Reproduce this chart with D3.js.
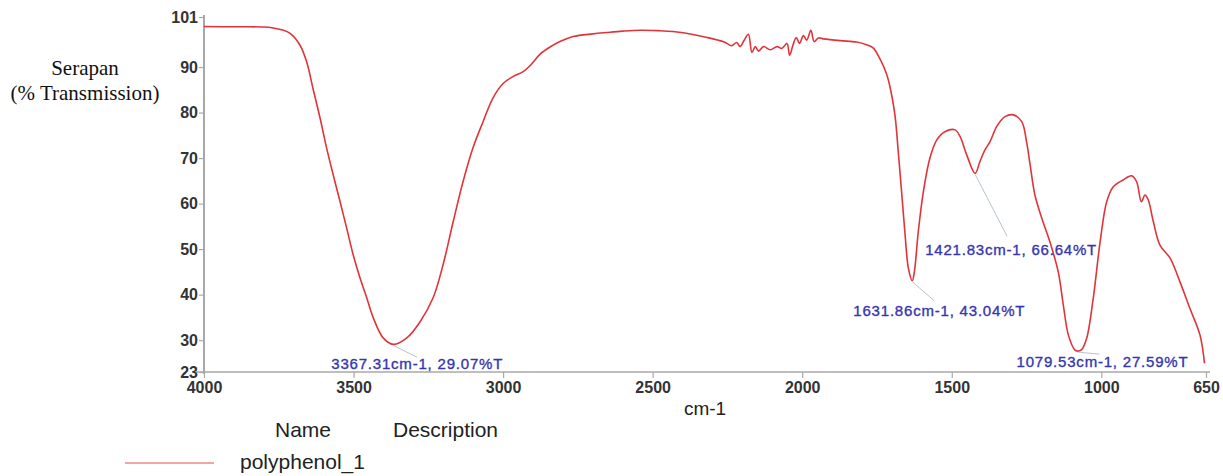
<!DOCTYPE html>
<html>
<head>
<meta charset="utf-8">
<script src="https://cdn.jsdelivr.net/npm/d3@7"></script>
<style>
  html, body { margin: 0; padding: 0; background: #fff; }
  svg { display: block; }
</style>
</head>
<body>
<svg id="chart" width="1223" height="476"></svg>
<script>
// ---------- DATA ----------
const wavenumber = [4000, 3900, 3800, 3769, 3740, 3712, 3679, 3657, 3636, 3612, 3590, 3568, 3545, 3523, 3501, 3478, 3456, 3434, 3401, 3367, 3322, 3278, 3234, 3201, 3167, 3134, 3101, 3067, 3034, 3000, 2967, 2933, 2910, 2877, 2843, 2810, 2766, 2700, 2653, 2600, 2542, 2480, 2432, 2370, 2318, 2265, 2252, 2236, 2219, 2208, 2194, 2180, 2168, 2157, 2146, 2129, 2107, 2084, 2068, 2051, 2042, 2031, 2020, 2009, 1996, 1985, 1971, 1960, 1946, 1929, 1873, 1818, 1785, 1763, 1740, 1718, 1706, 1690, 1679, 1667, 1656, 1645, 1632, 1625, 1612, 1595, 1573, 1550, 1523, 1489, 1472, 1450, 1422, 1406, 1389, 1372, 1350, 1322, 1294, 1266, 1250, 1238, 1222, 1199, 1172, 1144, 1127, 1110, 1088, 1080, 1066, 1049, 1027, 1004, 982, 960, 927, 899, 882, 866, 854, 843, 826, 804, 770, 737, 704, 670, 655];
const transmission = [98.9, 98.85, 98.8, 98.6, 98.2, 97.4, 94.8, 91.2, 85.4, 78.8, 72.2, 66.3, 60.4, 54.6, 48.7, 43.6, 39.3, 34.9, 30.5, 29.07, 30.5, 34.0, 39.3, 46.5, 56.0, 64.8, 72.2, 78.0, 83.2, 86.4, 87.9, 89.0, 90.3, 92.8, 94.4, 95.6, 96.7, 97.3, 97.6, 97.9, 98.1, 98.0, 97.8, 97.2, 96.5, 95.6, 95.2, 94.7, 95.4, 94.5, 95.9, 97.2, 93.2, 94.5, 93.5, 94.5, 93.8, 94.5, 94.1, 95.2, 92.6, 94.8, 96.5, 95.2, 96.9, 95.9, 98.1, 95.6, 96.4, 96.2, 95.8, 95.5, 94.9, 94.2, 91.8, 88.5, 85.5, 79.5, 71.5, 62.0, 53.1, 45.8, 43.04, 45.0, 53.8, 62.6, 70.0, 74.0, 75.8, 76.2, 74.7, 70.7, 66.64, 69.2, 71.8, 73.6, 76.9, 79.1, 79.5, 78.0, 73.6, 68.5, 61.9, 56.8, 51.6, 45.0, 37.7, 31.1, 27.8, 27.59, 27.9, 30.4, 39.2, 51.6, 60.4, 63.7, 65.2, 66.1, 64.8, 60.4, 61.9, 60.8, 56.0, 50.9, 48.0, 42.8, 37.0, 31.1, 24.9];

const xTicks = [4000, 3500, 3000, 2500, 2000, 1500, 1000, 650];
const yTicks = [101, 90, 80, 70, 60, 50, 40, 30, 23];

const peakWavenumber = [3367.31, 1631.86, 1421.83, 1079.53];
const peakTransmission = [29.07, 43.04, 66.64, 27.59];
const peakLabels = ["3367.31cm-1, 29.07%T", "1631.86cm-1, 43.04%T", "1421.83cm-1, 66.64%T", "1079.53cm-1, 27.59%T"];

const seriesName = "polyphenol_1";

// ---------- LAYOUT ----------
const svg = d3.select("#chart");
const x = d3.scaleLinear().domain([4000, 650]).range([204, 1206]);
const y = d3.scaleLinear().domain([23, 101]).range([372, 17]);

// label layout (leader end offset, text start offset, baseline offset) relative to peak
const labelLayout = [
  { lx: 24, ly: 13, tx: -62, ty: 25 },
  { lx: 22, ly: 20, tx: -59, ty: 35 },
  { lx: 32, ly: 63, tx: -50, ty: 82 },
  { lx: 22, ly: 3,  tx: -61, ty: 16 }
];

const axisColor = "#a8a8a8";
const tickText = "#333";

// axes lines
svg.append("line")
  .attr("x1", 196).attr("x2", 1210)
  .attr("y1", y(23)).attr("y2", y(23))
  .attr("stroke", axisColor).attr("stroke-width", 1.6);
svg.append("line")
  .attr("x1", x(4000)).attr("x2", x(4000))
  .attr("y1", y(101) - 2).attr("y2", y(23) + 2)
  .attr("stroke", axisColor).attr("stroke-width", 2);

// x axis
const xAxis = d3.axisBottom(x).tickValues(xTicks).tickSize(6).tickPadding(3).tickFormat(d3.format("d"));
const gx = svg.append("g").attr("transform", `translate(0,${y(23)})`).call(xAxis);
gx.select(".domain").remove();
gx.selectAll(".tick line").attr("stroke", axisColor).attr("stroke-width", 1.2);
gx.selectAll(".tick text")
  .attr("fill", tickText)
  .style("font-family", "'Liberation Sans', Arial, sans-serif")
  .style("font-size", "16px")
  .style("font-weight", "bold")
  .attr("dy", "0.75em");

// y axis
const yAxis = d3.axisLeft(y).tickValues(yTicks).tickSize(5).tickPadding(1).tickFormat(d3.format("d"));
const gy = svg.append("g").attr("transform", `translate(${x(4000)},0)`).call(yAxis);
gy.select(".domain").remove();
gy.selectAll(".tick line").attr("stroke", axisColor).attr("stroke-width", 1.2);
gy.selectAll(".tick text")
  .attr("fill", tickText)
  .style("font-family", "'Liberation Sans', Arial, sans-serif")
  .style("font-size", "16px")
  .style("font-weight", "bold");

// axis titles
svg.append("text")
  .attr("x", 705).attr("y", 415)
  .attr("text-anchor", "middle")
  .attr("fill", "#222")
  .style("font-family", "'Liberation Sans', Arial, sans-serif")
  .style("font-size", "19px")
  .text("cm-1");

const yTitle = svg.append("text")
  .attr("text-anchor", "middle")
  .attr("fill", "#111")
  .style("font-family", "'Liberation Serif', 'Times New Roman', serif")
  .style("font-size", "21px");
yTitle.append("tspan").attr("x", 85).attr("y", 75).text("Serapan");
yTitle.append("tspan").attr("x", 85).attr("y", 100).text("(% Transmission)");

// spectrum
const data = wavenumber.map((w, i) => ({ w, t: transmission[i] }));
const line = d3.line().x(d => x(d.w)).y(d => y(d.t)).curve(d3.curveCatmullRom.alpha(0.5));
svg.append("path")
  .datum(data)
  .attr("d", line)
  .attr("fill", "none")
  .attr("stroke", "#e0343a")
  .attr("stroke-width", 1.6)
  .attr("stroke-linejoin", "round");

// peak annotations
peakWavenumber.forEach((w, i) => {
  const px = x(w), py = y(peakTransmission[i]);
  const L = labelLayout[i];
  svg.append("line")
    .attr("x1", px).attr("y1", py + 1)
    .attr("x2", px + L.lx).attr("y2", py + L.ly)
    .attr("stroke", "#b8c4cc").attr("stroke-width", 1);
  svg.append("text")
    .attr("x", px + L.tx).attr("y", py + L.ty)
    .attr("fill", "#3535b0")
    .attr("stroke", "#3535b0")
    .attr("stroke-width", 0.35)
    .style("font-family", "'Liberation Sans', Arial, sans-serif")
    .style("font-size", "15px")
    .style("letter-spacing", "0.8px")
    .text(peakLabels[i]);
});

// legend
const legFont = "'Liberation Sans', Arial, sans-serif";
svg.append("text").attr("x", 275).attr("y", 437).attr("fill", "#222")
  .style("font-family", legFont).style("font-size", "21px").text("Name");
svg.append("text").attr("x", 393).attr("y", 437).attr("fill", "#222")
  .style("font-family", legFont).style("font-size", "21px").text("Description");
svg.append("line").attr("x1", 125).attr("x2", 214).attr("y1", 463).attr("y2", 463)
  .attr("stroke", "#e88a8c").attr("stroke-width", 1.4);
svg.append("text").attr("x", 240).attr("y", 469).attr("fill", "#222")
  .style("font-family", legFont).style("font-size", "21px").text(seriesName);
</script>
</body>
</html>
